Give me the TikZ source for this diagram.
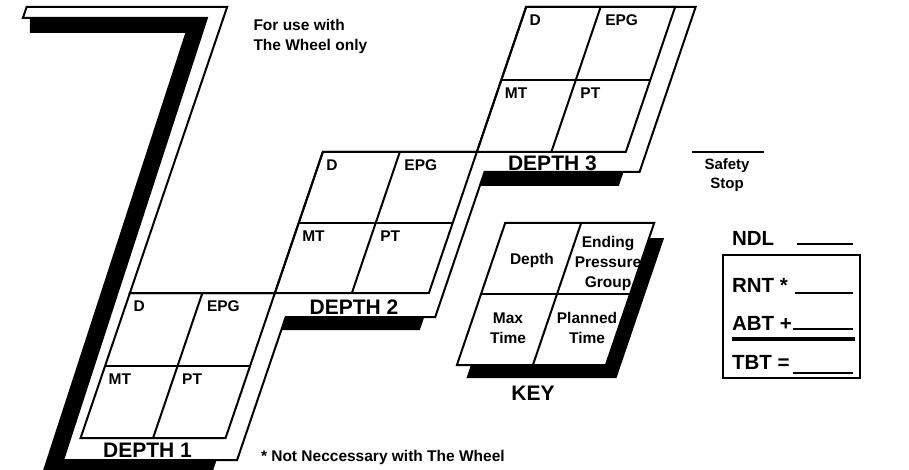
\documentclass[tikz,border=0pt]{standalone}
\usepackage{fontspec}
\setmainfont{Liberation Sans}

\begin{document}
\begin{tikzpicture}[
    x=1pt, y=-1pt,
    line width=2pt,
    profile/.style={fill=white, draw=black, line join=miter},
    cell/.style={anchor=north west, inner sep=0pt, font=\fontsize{15.5}{19}\selectfont\bfseries},
    depthlbl/.style={inner sep=0pt, font=\fontsize{21}{24}\selectfont\bfseries},
    note/.style={inner sep=0pt, align=left, font=\fontsize{15.5}{20}\selectfont\bfseries},
    keytxt/.style={inner sep=0pt, align=center, font=\fontsize{15.5}{20}\selectfont\bfseries},
    tally/.style={anchor=base west, inner sep=0pt, font=\fontsize{20.5}{24}\selectfont\bfseries},
    blank/.style={line width=1.5pt}
]
    \useasboundingbox (0,0) rectangle (909,470);

    \begin{scope}[xslant=0.34]
        % shadows
        \fill (36,18) -- (213,18) -- (219.5,460) -- (373,460) -- (373,474) -- (203,474) -- (196.5,33) -- (41,33) -- cycle;
        \fill (393.5,317) -- (532,317) -- (532,330) -- (393.5,330) -- cycle;
        \fill (543,172) -- (682,172) -- (682,186) -- (543,186) -- cycle;
        \fill (595,238) -- (745,238) -- (745,378) -- (595,378) -- cycle;

        % dive profile
        \draw[profile] (29,7) -- (229.5,7) -- (229.5,293) -- (374.5,293) -- (374.5,152)
            -- (528.5,152) -- (528.5,7) -- (698,7) -- (698,172) -- (543,172) -- (543,317)
            -- (393.5,317) -- (393.5,460) -- (219.5,460) -- (213,18) -- (29,18) -- cycle;

        \foreach \ua/\ub/\ya/\ym/\yb/\ul/\yl/\n in {229.5/374.5/293/366/438/300.5/450/1,
                374.5/528.5/152/223/293/458.5/307.5/2, 528.5/677.5/7/80/152/608/163.5/3} {
            \pgfmathsetmacro\um{(\ua+\ub)/2}
            \draw (\ua,\ya) -- (\ub,\ya) -- (\ub,\yb) -- (\ua,\yb) -- cycle;
            \draw (\ua,\ym) -- (\ub,\ym);
            \draw (\um,\ya) -- (\um,\yb);
            \node[cell] (d\n) at (\ua+5,\ya+7) {D};
            \node[cell] (epg\n) at (\um+6,\ya+7) {EPG};
            \node[cell] (mt\n) at (\ua+5,\ym+7) {MT};
            \node[cell] (pt\n) at (\um+6,\ym+7) {PT};
            \node[depthlbl] (depth\n) at (\ul,\yl) {DEPTH \n};
        }

        % key
        \draw[profile] (581,223) -- (730,223) -- (730,365) -- (581,365) -- cycle;
        \draw (581,294) -- (730,294);
        \draw (657,223) -- (657,365);
    \end{scope}

    \node[keytxt, anchor=base] (kdepth) at (532,264.5) {Depth};
    \node[keytxt, anchor=north] (kepg) at (608,235) {Ending\\Pressure\\Group};
    \node[keytxt, anchor=north] (kmax) at (508,311.7) {Max\\Time};
    \node[keytxt, anchor=north] (kplan) at (587,311.7) {Planned\\Time};
    \node[depthlbl, anchor=base] (keytitle) at (533,400.5) {KEY};

    \node[note, anchor=north west] (wheel) at (252.5,18.3) {For use with\\The Wheel only};
    \node[note, anchor=base west] (footnote) at (260,461) {* Not Neccessary with The Wheel};

    \draw[blank] (692,152) -- (764,152);
    \node[keytxt, anchor=north, font=\fontsize{15}{18.5}\selectfont\bfseries] (safety) at (727,158) {Safety\\Stop};

    \node[tally] (ndl) at (731,245.5) {NDL};
    \draw[blank] (797,244) -- (853,244);
    \draw (723,255) rectangle (860,378);
    \node[tally] (rnt) at (731,292) {RNT *};
    \draw[blank] (795,293) -- (853,293);
    \node[tally] (abt) at (731,330) {ABT +};
    \draw[blank] (793,329) -- (853,329);
    \draw[line width=3.2pt] (732,339) -- (855,339);
    \node[tally] (tbt) at (731,369.5) {TBT =};
    \draw[blank] (793,373) -- (853,373);
\end{tikzpicture}
\end{document}
